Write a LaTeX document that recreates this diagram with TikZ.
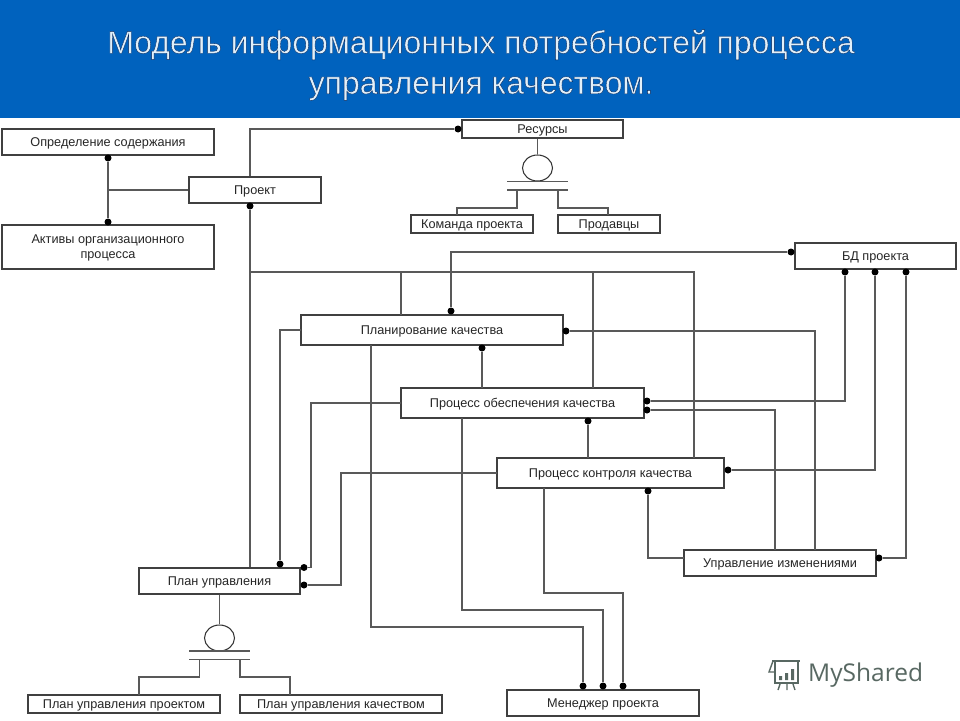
\documentclass[tikz,border=0pt]{standalone}
\usepackage{fontspec}
\usetikzlibrary{shapes.geometric}
\setmainfont{Liberation Sans}
\newfontfamily\wmfont{Open Sans}
\definecolor{band}{RGB}{0,98,190}
\definecolor{titlefg}{RGB}{225,240,250}
\definecolor{wm}{RGB}{88,104,98}
\tikzset{
  x=1pt,y=-1pt,
  box/.style={draw=black!75,line width=1.05pt,fill=white,inner sep=0pt,font=\fontsize{12.7}{15}\selectfont,align=center,text=black!85},
  conn/.style={draw=black!65,line width=1.05pt},
  dotc/.style={circle,fill=black,inner sep=0pt,minimum width=7pt,minimum height=6.5pt},
  ttl/.style={font=\fontsize{31.9}{40.5}\selectfont,align=center,inner sep=0pt},
  junc/.style={draw=black!80,line width=1.05pt,ellipse,minimum width=30pt,minimum height=26pt,inner sep=0pt},
}
\newcommand{\bx}[6]{\node[box,minimum width=#4pt-#3pt,minimum height=#6pt-#5pt,text depth=0.5pt] (#1) at ({(#3+#4)/2},{(#5+#6)/2}) {#2};}
\newcommand{\dt}[3]{\node[dotc] (#1) at (#2,#3) {};}
\begin{document}
\begin{tikzpicture}
\useasboundingbox (0,0) rectangle (960,720);
\fill[white] (0,0) rectangle (960,720);
\fill[band] (0,0) rectangle (960,118);
\node[ttl,text=titlefg] (title) at (481,65) {\special{pdf:code q 2 Tr 0.35 w 0.04 0.16 0.36 RG}Модель информационных потребностей процесса\\\special{pdf:code q 2 Tr 0.35 w 0.04 0.16 0.36 RG}управления качеством.\special{pdf:code Q Q 0 Tr}};
% boxes
\bx{opr}{Определение содержания}{2}{214}{129}{155}
\bx{prj}{Проект}{189}{321}{177}{203}
\bx{akt}{Активы организационного\\процесса}{2}{214}{225}{269}
\bx{res}{Ресурсы}{462}{623}{120}{138}
\bx{kom}{Команда проекта}{411}{533}{215}{233}
\bx{prd}{Продавцы}{558}{660}{215}{233}
\bx{bdp}{БД проекта}{795}{956}{243}{269}
\bx{pla}{Планирование качества}{301}{563}{315}{345}
\bx{obe}{Процесс обеспечения качества}{401}{644}{388}{418}
\bx{kon}{Процесс контроля качества}{497}{724}{458}{488}
\bx{izm}{Управление изменениями}{684}{876}{550}{576}
\bx{upr}{План управления}{139}{300}{568}{594}
\bx{ppr}{План управления проектом}{28}{220}{695}{713}
\bx{pka}{План управления качеством}{240}{442}{695}{713}
\bx{men}{Менеджер проекта}{507}{699}{690}{716}
% connection points
\dt{dA}{108}{158}\dt{dB}{108}{222}\dt{dC}{458}{129}\dt{dD}{250}{206}
\dt{dE}{791}{252}\dt{dF}{451}{311}\dt{dG}{845}{272}\dt{dH}{875}{272}\dt{dI}{906}{272}
\dt{dJ}{647}{401}\dt{dK}{647}{410}\dt{dL}{728}{470}\dt{dM}{879}{558}\dt{dN}{566}{331}
\dt{dO}{648}{491}\dt{dP}{482}{348}\dt{dQ}{588}{421}\dt{dR}{280}{564}\dt{dS}{304}{567.5}
\dt{dT}{304}{585}\dt{dU}{583}{686}\dt{dV}{603}{686}\dt{dW}{623}{686}
% connectors
\draw[conn] (dA) -- (dB);
\draw[conn] (prj.west) -- (prj.west -| dA);
\draw[conn] (prj.north -| dD) -- (250,129) -- (dC);
\draw[conn] (dD) -- (upr.north -| dD);
\draw[conn] (250,272) -- (694,272) -- (694,458);
\draw[conn] (401,272) -- (401,315);
\draw[conn] (593,272) -- (593,388);
\draw[conn] (dE) -- (451,252) -- (dF);
\draw[conn] (dG) -- (845,401) -- (dJ);
\draw[conn] (dH) -- (875,470) -- (dL);
\draw[conn] (dI) -- (906,558) -- (dM);
\draw[conn] (dN) -- (815,331) -- (815,550);
\draw[conn] (dK) -- (775,410) -- (775,550);
\draw[conn] (dO) -- (648,558) -- (684,558);
\draw[conn] (dP) -- (482,388);
\draw[conn] (dQ) -- (588,458);
\draw[conn] (301,330) -- (280,330) -- (dR);
\draw[conn] (401,403) -- (311,403) -- (311,567.5) -- (dS);
\draw[conn] (497,473) -- (341,473) -- (341,585) -- (dT);
\draw[conn] (371,345) -- (371,627) -- (583,627) -- (dU);
\draw[conn] (462,418) -- (462,610) -- (603,610) -- (dV);
\draw[conn] (544,488) -- (544,593) -- (623,593) -- (dW);
% resource junction
\node[junc] (jr) at (537.5,168) {};
\coordinate (jrl) at (507,181.5);\coordinate (jrr) at (568,181.5);
\coordinate (jbl) at (507,190);\coordinate (jbr) at (568,190);
\draw[conn] (jrl) -- (jrr);
\draw[conn] (jbl) -- (jbr);
\draw[conn] (jr.north |- res.south) -- (jr.north);
\draw[conn] (517,190) -- (517,208) -- (457,208) -- (457,215);
\draw[conn] (558,190) -- (558,208) -- (608,208) -- (608,215);
% plan junction
\node[junc] (jp) at (219.5,638) {};
\coordinate (jpl) at (189,651);\coordinate (jpr) at (250,651);
\coordinate (jql) at (189,659.5);\coordinate (jqr) at (250,659.5);
\draw[conn] (jpl) -- (jpr);
\draw[conn] (jql) -- (jqr);
\draw[conn] (upr.south) -- (jp.north);
\draw[conn] (199.5,659.5) -- (199.5,677) -- (139,677) -- (139,695);
\draw[conn] (240,659.5) -- (240,677) -- (290,677) -- (290,695);
% watermark
\node[font=\wmfont\fontsize{24.5}{24.5}\selectfont,text=wm,anchor=west,inner sep=0pt] (wmtext) at (808,675) {MyShared};
\draw[wm,line width=1.6pt] (772,661) -- (800,661);
\draw[wm,line width=1.6pt] (775,661) -- (775,683) -- (798,683) -- (798,661);
\draw[wm,line width=1.4pt] (773,661) -- (769,672) -- (775,672);
\fill[wm] (779,676) rectangle (782,680) (785,673) rectangle (788,680) (791,669) rectangle (794,680);
\draw[wm,line width=1.4pt] (780,684) -- (778,690) (787,684) -- (787,690) (793,684) -- (795,690);
\end{tikzpicture}
\end{document}
